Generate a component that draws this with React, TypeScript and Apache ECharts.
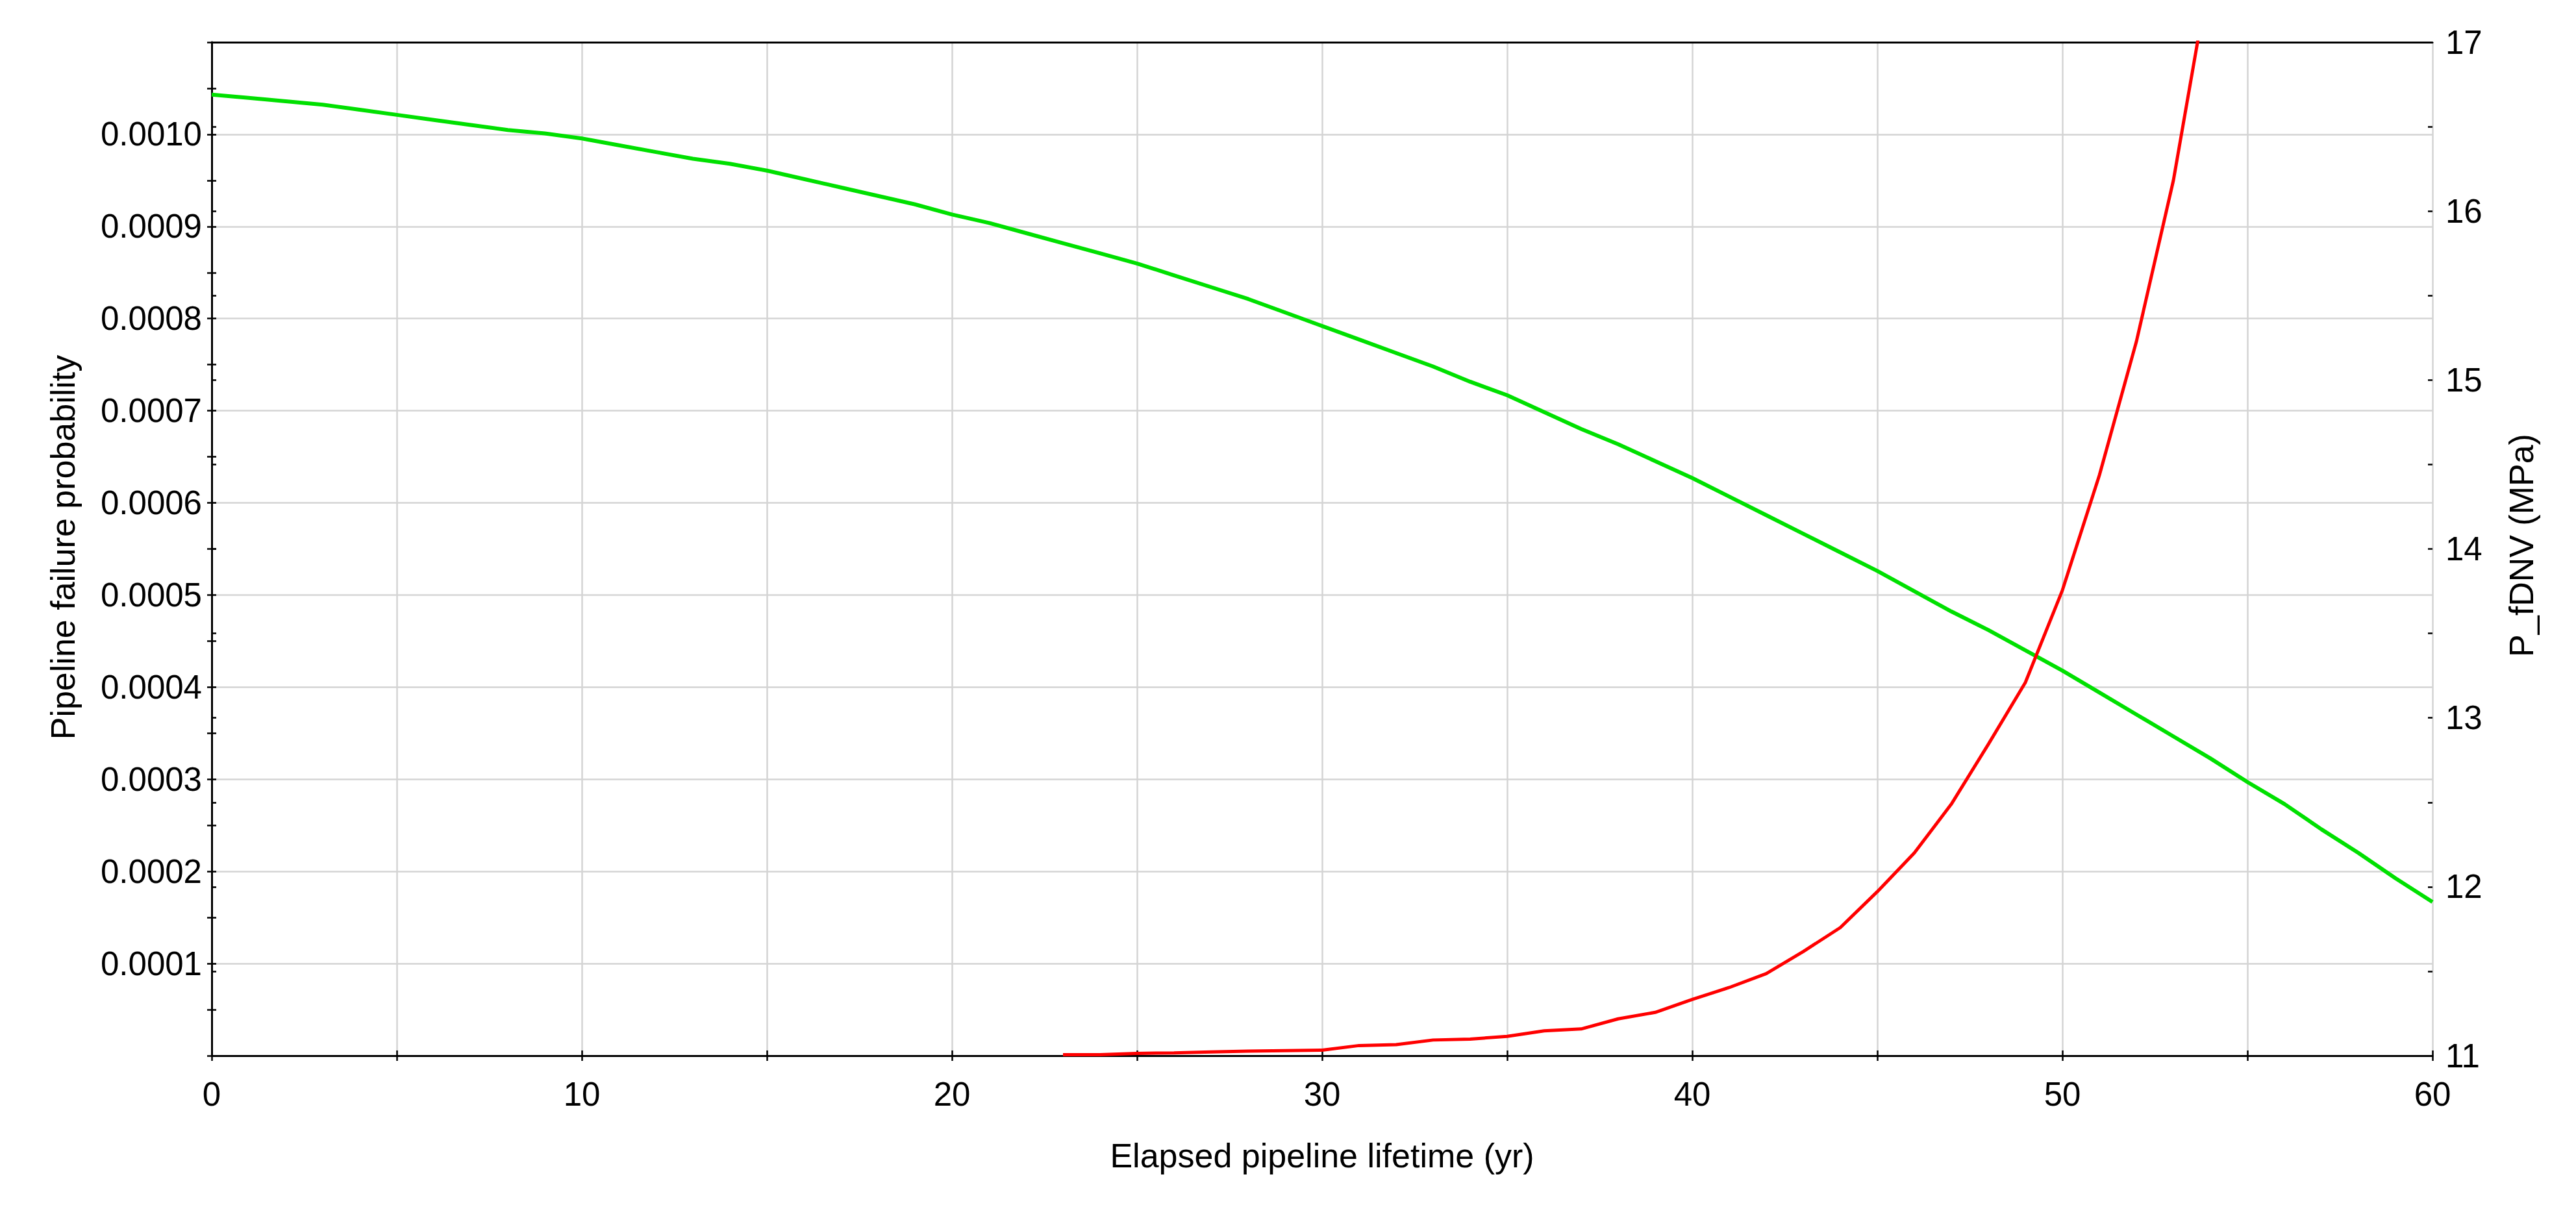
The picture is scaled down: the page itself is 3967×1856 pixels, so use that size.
import React, { useEffect, useRef } from "react";
import * as echarts from "echarts";

// Pipeline failure probability (left axis) — red
const redYears = [23, 24, 25, 26, 27, 28, 29, 30, 31, 32, 33, 34, 35, 36, 37, 38, 39, 40, 41, 42, 43, 44, 45, 46, 47, 48, 49, 50, 51, 52, 53, 54];
const redValues = [
  0.000001, 0.000001, 0.0000025, 0.000003, 0.000004, 0.000005, 0.0000055, 0.000006,
  0.000011, 0.000012, 0.000017, 0.000018, 0.000021, 0.000027, 0.000029, 0.00004,
  0.000047, 0.000061, 0.000074, 0.000089, 0.000113, 0.000139, 0.000178, 0.00022,
  0.000273, 0.000338, 0.000405, 0.000505, 0.00063, 0.000775, 0.00095, 0.00118,
];

// P_fDNV (MPa) (right axis) — green
const greenYears = Array.from({ length: 61 }, (_, i) => i);
const greenValues = [
  16.69, 16.67, 16.65, 16.63, 16.6, 16.57, 16.54, 16.51, 16.48, 16.46,
  16.43, 16.39, 16.35, 16.31, 16.28, 16.24, 16.19, 16.14, 16.09, 16.04,
  15.98, 15.93, 15.87, 15.81, 15.75, 15.69, 15.62, 15.55, 15.48, 15.4,
  15.32, 15.24, 15.16, 15.08, 14.99, 14.91, 14.81, 14.71, 14.62, 14.52,
  14.42, 14.31, 14.2, 14.09, 13.98, 13.87, 13.75, 13.63, 13.52, 13.4,
  13.28, 13.15, 13.02, 12.89, 12.76, 12.62, 12.49, 12.34, 12.2, 12.05,
  11.91,
];

const xTitle = "Elapsed pipeline lifetime (yr)";
const leftTitle = "Pipeline failure probability";
const rightTitle = "P_fDNV (MPa)";

const FONT = "'Liberation Sans', Arial, sans-serif";
const TICK_FS = 51;
const TITLE_FS = 52;

export default function App() {
  const ref = useRef<HTMLDivElement>(null);

  useEffect(() => {
    document.body.style.margin = "0";
    document.body.style.overflow = "hidden";
    if (!ref.current) return;
    const chart = echarts.init(ref.current, undefined, { renderer: "svg" });

    const axisLineStyle = { color: "#000", width: 3 };
    const tickStyle = { color: "#000", width: 2.5 };
    const gridStyle = { color: "#d4d4d4", width: 2.5 };

    const option: any = {
      animation: false,
      backgroundColor: "#fff",
      grid: {
        left: 326,
        right: 221,
        top: 65,
        bottom: 230,
        show: false,
      },
      xAxis: [
        {
          type: "value",
          min: 0,
          max: 60,
          interval: 5,
          position: "bottom",
          axisLine: { show: true, lineStyle: axisLineStyle },
          axisTick: { show: true, length: 8, lineStyle: tickStyle },
          axisLabel: {
            show: true,
            formatter: (v: number) => (Math.round(v) % 10 === 0 ? String(Math.round(v)) : ""),
            fontSize: TICK_FS,
            fontFamily: FONT,
            color: "#000",
            margin: 34,
          },
          splitLine: { show: true, lineStyle: gridStyle },
          z: 5,
        },
        {
          type: "value",
          min: 0,
          max: 60,
          interval: 5,
          position: "bottom",
          axisLine: { show: false },
          axisTick: { show: true, inside: true, length: 8, lineStyle: tickStyle },
          axisLabel: { show: false },
          splitLine: { show: false },
          z: 5,
        },
        {
          type: "value",
          min: 0,
          max: 60,
          position: "top",
          axisLine: { show: true, lineStyle: axisLineStyle },
          axisTick: { show: false },
          axisLabel: { show: false },
          splitLine: { show: false },
          z: 5,
        },
      ],
      yAxis: [
        {
          type: "value",
          min: 0,
          max: 0.0011,
          interval: 0.0001,
          position: "left",
          axisLine: { show: true, lineStyle: axisLineStyle },
          axisTick: { show: true, length: 7, lineStyle: tickStyle },
          minorTick: { show: true, splitNumber: 2, length: 7, lineStyle: tickStyle },
          axisLabel: {
            show: true,
            formatter: (v: number) => (v < 1e-9 || v > 0.00105 ? "" : v.toFixed(4)),
            fontSize: TICK_FS,
            fontFamily: FONT,
            color: "#000",
            margin: 15,
          },
          splitLine: { show: true, lineStyle: gridStyle },
          z: 4,
        },
        {
          type: "value",
          min: 0,
          max: 0.0011,
          interval: 0.0001,
          position: "left",
          axisLine: { show: false },
          axisTick: { show: true, inside: true, length: 7, lineStyle: tickStyle },
          minorTick: { show: true, splitNumber: 2, length: 7, lineStyle: tickStyle },
          axisLabel: { show: false },
          splitLine: { show: false },
          z: 5,
        },
        {
          type: "value",
          min: 11,
          max: 17,
          interval: 1,
          position: "right",
          axisLine: { show: true, lineStyle: axisLineStyle },
          axisTick: { show: true, length: 7, lineStyle: tickStyle },
          minorTick: { show: true, splitNumber: 2, length: 7, lineStyle: tickStyle },
          axisLabel: {
            show: true,
            fontSize: TICK_FS,
            fontFamily: FONT,
            color: "#000",
            margin: 20,
          },
          splitLine: { show: false },
          z: 5,
        },
        {
          type: "value",
          min: 11,
          max: 17,
          interval: 1,
          position: "right",
          axisLine: { show: false },
          axisTick: { show: true, inside: true, length: 7, lineStyle: tickStyle },
          minorTick: { show: true, splitNumber: 2, length: 7, lineStyle: tickStyle },
          axisLabel: { show: false },
          splitLine: { show: false },
          z: 5,
        },
      ],
      series: [
        {
          name: "P_fDNV",
          type: "line",
          xAxisIndex: 0,
          yAxisIndex: 2,
          data: greenYears.map((x, i) => [x, greenValues[i]]),
          showSymbol: false,
          symbol: "none",
          clip: true,
          lineStyle: { color: "#00e000", width: 6 },
          z: 10,
        },
        {
          name: "Pipeline failure probability",
          type: "line",
          xAxisIndex: 0,
          yAxisIndex: 0,
          data: redYears.map((x, i) => [x, redValues[i]]),
          showSymbol: false,
          symbol: "none",
          clip: true,
          lineStyle: { color: "#ff0000", width: 5 },
          z: 11,
        },
      ],
      graphic: [
        {
          type: "text",
          x: 2036,
          y: 1780,
          style: {
            text: xTitle,
            fontSize: TITLE_FS,
            fontFamily: FONT,
            fill: "#000",
            textAlign: "center",
            textVerticalAlign: "middle",
          },
        },
        {
          type: "text",
          x: 97,
          y: 843,
          rotation: Math.PI / 2,
          style: {
            text: leftTitle,
            fontSize: TITLE_FS,
            fontFamily: FONT,
            fill: "#000",
            textAlign: "center",
            textVerticalAlign: "middle",
          },
        },
        {
          type: "text",
          x: 3883,
          y: 840,
          rotation: Math.PI / 2,
          style: {
            text: rightTitle,
            fontSize: TITLE_FS,
            fontFamily: FONT,
            fill: "#000",
            textAlign: "center",
            textVerticalAlign: "middle",
          },
        },
      ],
    };

    chart.setOption(option);
    return () => {
      chart.dispose();
    };
  }, []);

  return <div ref={ref} style={{ width: "3967px", height: "1856px" }} />;
}
